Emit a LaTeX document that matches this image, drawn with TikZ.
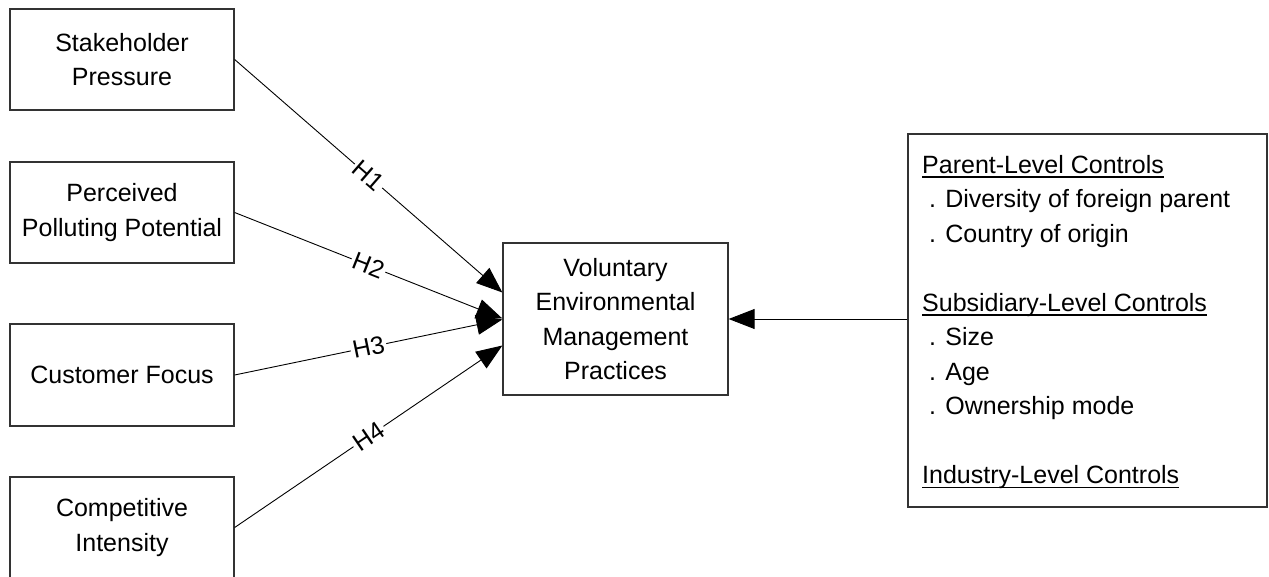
\documentclass[tikz,border=0pt]{standalone}
\usepackage{fontspec}
\setmainfont{Liberation Sans}
\usetikzlibrary{arrows.meta,calc}
\newcommand\myul[1]{\setbox0\hbox{#1}\rlap{\rule[-4.5pt]{\wd0}{1.5pt}}\box0}
\tikzset{
  box/.style={draw=black!80, line width=1.3pt, rectangle, align=center, inner sep=0pt,
    font=\fontsize{25}{34.5}\selectfont},
  arr/.style={draw=black, line width=0.9pt, -{Triangle[length=26pt,width=20pt]}},
  lab/.style={midway, sloped, fill=white, inner sep=2pt, font=\fontsize{25}{30}\selectfont},
}
\begin{document}
\begin{tikzpicture}[x=1pt,y=-1pt]
\useasboundingbox (0,0) rectangle (1269,577);
\node[box, minimum width=224pt, minimum height=101pt] (b1) at (122,59.5) {Stakeholder\\Pressure};
\node[box, minimum width=224pt, minimum height=101pt] (b2) at (122,212.5) {Perceived\\Polluting Potential};
\node[box, minimum width=224pt, minimum height=102pt] (b3) at (122,375) {Customer Focus};
\node[box, minimum width=224pt, minimum height=101pt] (b4) at (122,527.5) {Competitive\\Intensity};
\node[box, minimum width=225pt, minimum height=152pt] (c) at (615.5,319) {Voluntary\\Environmental\\Management\\Practices};
\node[box, minimum width=359pt, minimum height=373pt] (r) at (1087.5,320.5) {};
\node[anchor=north west, inner sep=0pt, align=left, font=\fontsize{25}{34.5}\selectfont] (rt) at (922,155)
  {\myul{Parent-Level Controls}\\
   \ . Diversity of foreign parent\\
   \ . Country of origin\\
   \strut\\
   \myul{Subsidiary-Level Controls}\\
   \ . Size\\
   \ . Age\\
   \ . Ownership mode\\
   \strut\\
   \myul{Industry-Level Controls}};
\draw[arr] (b1.east) -- node[lab]{H1} ($(c.west)+(0,-26.5)$);
\draw[arr] (b2.east) -- node[lab]{H2} ($(c.west)+(0,-0.5)$);
\draw[arr] (b3.east) -- node[lab]{H3} ($(c.west)+(0,0.5)$);
\draw[arr] (b4.east) -- node[lab]{H4} ($(c.west)+(0,26.5)$);
\draw[arr] (r.west |- c.east) -- (c.east);
\end{tikzpicture}
\end{document}
